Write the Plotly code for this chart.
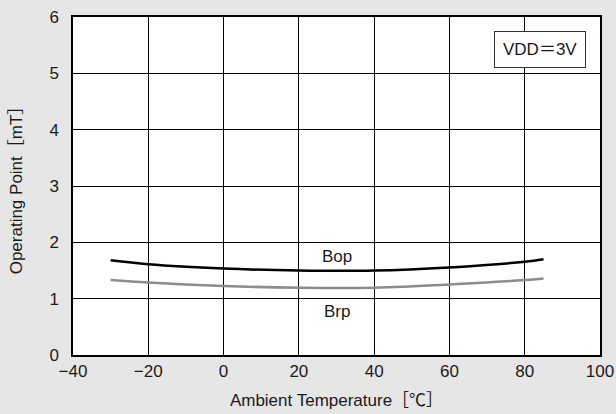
import plotly.graph_objects as go

temps = [-30, -20, 0, 20, 40, 60, 80, 85]
bop = [1.68, 1.61, 1.535, 1.50, 1.50, 1.555, 1.655, 1.70]
brp = [1.33, 1.285, 1.225, 1.195, 1.195, 1.25, 1.33, 1.36]

x_ticks = [-40, -20, 0, 20, 40, 60, 80, 100]
x_ticklabels = ["\u221240", "\u221220", "0", "20", "40", "60", "80", "100"]
y_ticks = [0, 1, 2, 3, 4, 5, 6]

FONT = "Liberation Sans, Arial, Noto Sans CJK JP, sans-serif"
TXT = "#1a1a1a"
FS = 17

fig = go.Figure()
fig.add_trace(go.Scatter(x=temps, y=brp, mode="lines", line=dict(color="#8c8c8c", width=2.5, shape="spline"),
                         showlegend=False, hoverinfo="skip"))
fig.add_trace(go.Scatter(x=temps, y=bop, mode="lines", line=dict(color="#000000", width=2.5, shape="spline"),
                         showlegend=False, hoverinfo="skip"))

fig.add_annotation(x=30, y=1.75, text="Bop", showarrow=False, font=dict(size=FS, color=TXT, family=FONT))
fig.add_annotation(x=30, y=0.77, text="Brp", showarrow=False, font=dict(size=FS, color=TXT, family=FONT))
fig.add_annotation(x=0.973, y=0.904, xref="paper", yref="paper", xanchor="right", yanchor="middle",
                   text="VDD\uff1d3V", showarrow=False, font=dict(size=FS, color=TXT, family=FONT),
                   bgcolor="white", bordercolor="#333333", borderwidth=1, borderpad=8)

fig.update_layout(
    width=616, height=414,
    paper_bgcolor="#e6e6e6", plot_bgcolor="white",
    margin=dict(l=73, r=16, t=17, b=59),
    font=dict(family=FONT, size=FS, color=TXT),
    xaxis=dict(range=[-40, 100], tickvals=x_ticks, ticktext=x_ticklabels, showgrid=True,
               gridcolor="black", gridwidth=1, zeroline=False, showline=True, linecolor="black",
               linewidth=1.5, mirror=True, ticks="", tickfont=dict(size=FS), automargin=False,
               ticklabelstandoff=0,
               title=dict(text="Ambient Temperature\uff3b\u2103\uff3d", font=dict(size=FS), standoff=14)),
    yaxis=dict(range=[0, 6], tickvals=y_ticks, showgrid=True, gridcolor="black", gridwidth=1,
               zeroline=False, showline=True, linecolor="black", linewidth=1.5, mirror=True, ticks="",
               tickfont=dict(size=FS), automargin=False, ticklabelstandoff=9,
               title=dict(text="Operating Point\uff3bmT\uff3d", font=dict(size=FS), standoff=22)),
)

fig.write_html("out.html", config={"displayModeBar": False},
               post_script="document.body.style.margin='0';document.body.style.background='#e6e6e6';")
